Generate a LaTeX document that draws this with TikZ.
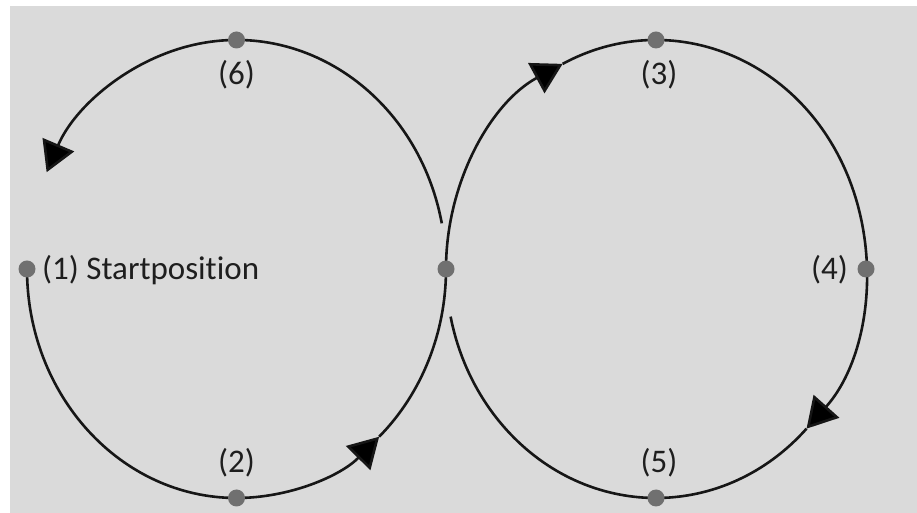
\documentclass[tikz,border=0pt]{standalone}
\usepackage{fontspec}
\setmainfont{Carlito}[Ligatures=NoCommon]
\usetikzlibrary{arrows.meta}
\definecolor{bg}{RGB}{218,218,218}
\definecolor{ink}{RGB}{22,22,22}
\definecolor{dotgray}{RGB}{112,112,112}
\definecolor{txt}{RGB}{30,30,30}
\begin{document}
\begin{tikzpicture}[x=1pt,y=1pt,
  curve/.style={draw=ink, line width=2.6pt},
  tipped/.style={curve,-{Triangle[length=30pt,width=34pt,fill=black]}},
  dot/.style={circle, fill=dotgray, draw=none, inner sep=0pt, minimum size=17pt},
  lab/.style={font=\fontsize{33}{40}\selectfont, text=txt, inner sep=0pt}]
\useasboundingbox (0,0) rectangle (917,513);
\fill[white] (0,0) rectangle (917,513);
\fill[bg] (10,0) rectangle (917,507);
\coordinate (L) at (236.5,244);
\coordinate (R) at (656,244);
% left circle, lower half, start -> (2)
\draw[tipped] (L) ++(180:209.5 and 229) arc[start angle=180,end angle=312.9,x radius=209.5,y radius=229];
% left lower right -> crossing -> right circle upper left
\draw[tipped] (L) ++(312.9:209.5 and 229) arc[start angle=312.9,end angle=360,x radius=209.5,y radius=229]
   arc[start angle=180,end angle=116.4,x radius=210,y radius=229];
% right circle top -> (3) -> (4)
\draw[tipped] (R) ++(116.4:210 and 229) arc[start angle=116.4,end angle=-44.2,x radius=210,y radius=229];
% right circle -> (5) -> end near crossing
\draw[curve] (R) ++(-44.2:210 and 229) arc[start angle=-44.2,end angle=-168,x radius=210,y radius=229];
% left circle upper part -> (6) -> back towards start
\draw[tipped] (L) ++(11.5:209.5 and 229) arc[start angle=11.5,end angle=155,x radius=209.5,y radius=229];
% dots
\node[dot] (d1) at (27,244) {};
\node[dot] (d2) at (236.5,15) {};
\node[dot] (dx) at (446,244) {};
\node[dot] (d3) at (656,473) {};
\node[dot] (d4) at (866,244) {};
\node[dot] (d5) at (656,15) {};
\node[dot] (d6) at (236.5,473) {};
% labels
\node[lab, anchor=west] (l1) at (42,243) {(1) Startposition};
\node[lab] (l2) at (236.5,50) {(2)};
\node[lab] (l3) at (659,438) {(3)};
\node[lab, anchor=east] (l4) at (848,243) {(4)};
\node[lab] (l5) at (659,50) {(5)};
\node[lab] (l6) at (236.5,438) {(6)};
\end{tikzpicture}
\end{document}
